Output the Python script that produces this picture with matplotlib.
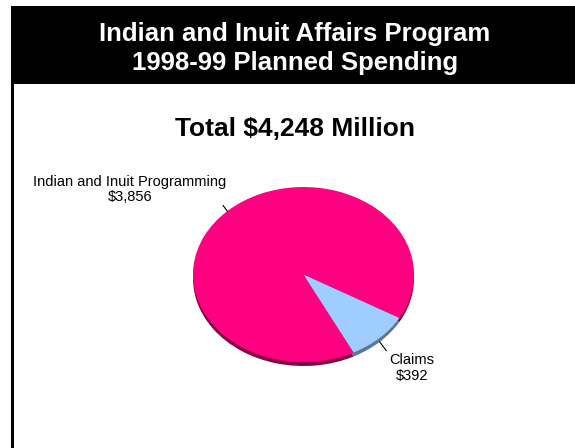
import matplotlib
matplotlib.use("Agg")
import matplotlib.pyplot as plt
import numpy as np
from matplotlib.patches import Rectangle

# Spending data ($ millions)
categories = ["Indian and Inuit Programming", "Claims"]
values = [3856, 392]
value_labels = ["$3,856", "$392"]
total_label = "Total $4,248 Million"
header_lines = ["Indian and Inuit Affairs Program", "1998-99 Planned Spending"]

face_colors = ["#FF0080", "#A0CDFF"]
rim_colors = ["#8A0045", "#5C7896"]

W, H = 575, 448
fig = plt.figure(figsize=(W / 100, H / 100), dpi=100)
fig.patch.set_facecolor("white")

def fx(px):
    return px / W

def fy(py):
    return 1 - py / H

# black header bar and left border
fig.patches.append(Rectangle((fx(11), fy(84)), fx(575) - fx(11), fy(6) - fy(84),
                             transform=fig.transFigure, facecolor="black",
                             edgecolor="none", zorder=0))
fig.patches.append(Rectangle((fx(11), 0), fx(14) - fx(11), fy(6),
                             transform=fig.transFigure, facecolor="black",
                             edgecolor="none", zorder=0))

font = "Liberation Sans"
fig.text(fx(295), fy(34), header_lines[0], color="white", fontsize=18.5,
         fontweight="bold", family=font, ha="center", va="center")
fig.text(fx(295), fy(63), header_lines[1], color="white", fontsize=18.5,
         fontweight="bold", family=font, ha="center", va="center")
fig.text(fx(295), fy(129), total_label, color="black", fontsize=19,
         fontweight="bold", family=font, ha="center", va="center")

# elliptical pie: centre (303.5, 274.5) px, semi-axes 110.5 x 87.5 px
cx, cy, a, b = 303.5, 274.5, 110.5, 87.5
rim = 4 / b                      # rim thickness in data units
ax = fig.add_axes([fx(cx - a), fy(cy + b + 4), 2 * a / W, (2 * b + 4) / H])
ax.set_axis_off()

start = 330.2
# rim / thickness drawn slightly below the top face
ax.pie(values, colors=rim_colors, startangle=start, center=(0, -rim),
       wedgeprops=dict(linewidth=0))
wedges, _ = ax.pie(values, colors=face_colors, startangle=start,
                   wedgeprops=dict(linewidth=0))
ax.set_aspect("auto")
ax.set_xlim(-1, 1)
ax.set_ylim(-1 - rim, 1)

# leader lines (normal to the ellipse edge) and labels
label_pos = [(-1.57, 0.975), (0.982, -1.069)]
leader = [(0.0, 7.0), (rim, 11.0)]     # (start offset below edge, length px)
for w, lab, val, (lx, ly), (off, length) in zip(wedges, categories,
                                                  value_labels, label_pos, leader):
    ang = np.deg2rad((w.theta1 + w.theta2) / 2)
    c, s = np.cos(ang), np.sin(ang)
    n = np.array([c / a, s / b])
    n /= np.hypot(*n)
    x0, y0 = c, s - (off if s < 0 else 0)
    x1, y1 = x0 + n[0] * length / a, y0 + n[1] * length / b
    ax.plot([x0, x1], [y0, y1], color="black", lw=0.8, clip_on=False)
    ax.text(lx, ly, f"{lab}\n{val}", ha="center", va="center", fontsize=10.5,
            family=font, linespacing=1.1, clip_on=False)

fig.savefig("out.png", dpi=100)
